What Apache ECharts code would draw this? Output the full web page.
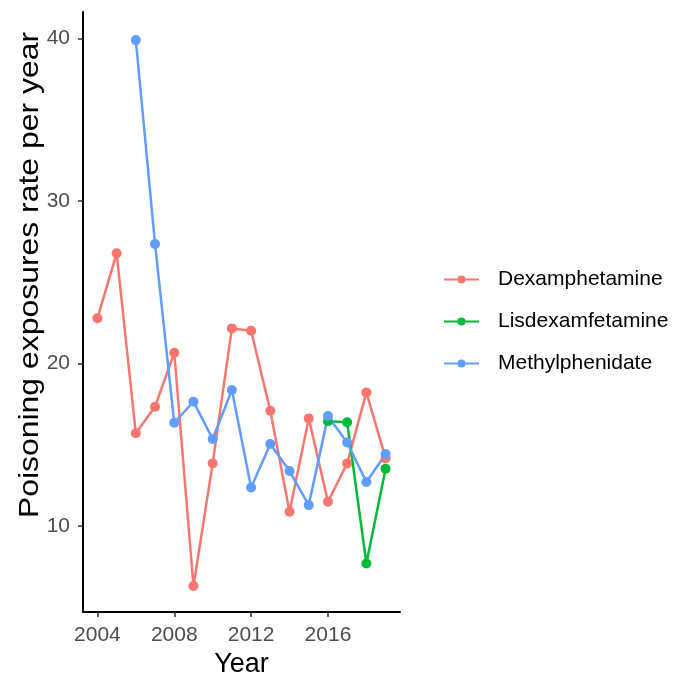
<!DOCTYPE html>
<html><head><meta charset="utf-8">
<script src="https://cdn.jsdelivr.net/npm/echarts@6/dist/echarts.min.js"></script>
<style>html,body{margin:0;padding:0;background:#fff;overflow:hidden}#c{width:684px;height:674px}</style>
</head><body><div id="c"></div>
<script>
const years = [2004,2005,2006,2007,2008,2009,2010,2011,2012,2013,2014,2015,2016,2017,2018,2019];
const dexYears = years;
const dexValues = [22.77,26.77,15.69,17.33,20.65,6.29,13.84,22.15,22.01,17.08,10.86,16.61,11.48,13.84,18.21,14.15];
const lisYears = [2016,2017,2018,2019];
const lisValues = [16.43,16.37,7.68,13.51];
const metYears = [2006,2007,2008,2009,2010,2011,2012,2013,2014,2015,2016,2017,2018,2019];
const metValues = [39.9,27.35,16.34,17.64,15.34,18.36,12.36,15.03,13.37,11.27,16.75,15.13,12.69,14.41];
const seriesNames = ['Dexamphetamine','Lisdexamfetamine','Methylphenidate'];
const xTicks = [2004,2008,2012,2016];
const yTicks = [10,20,30,40];
const xTitle = 'Year';
const yTitle = 'Poisoning exposures rate per year';

const FONT = 'Liberation Sans, Arial, sans-serif';
const colors = ['#F8766D','#00BA38','#619CFF'];
const pair = (xs, vs) => xs.map((x,i)=>[x, vs[i]]);
const mk = (name, data, color) => ({
  name, type:'line', data, color,
  symbol:'circle', symbolSize:10, showSymbol:true,
  lineStyle:{width:2.5, color}, itemStyle:{color},
  emphasis:{disabled:true}
});
const chart = echarts.init(document.getElementById('c'));
chart.setOption({
  animation:false,
  backgroundColor:'#fff',
  textStyle:{fontFamily:FONT},
  grid:{left:83, right:284, top:12, bottom:62, containLabel:false, outerBoundsMode:'none'},
  legend:{
    orient:'vertical', left:443, top:269, padding:0, itemWidth:35, itemHeight:10, itemGap:21,
    data:seriesNames,
    textStyle:{fontSize:21, color:'#000', fontFamily:FONT, padding:[0,0,0,14]}
  },
  xAxis:{
    type:'value', min:2003.25, max:2019.75, interval:1,
    axisLine:{show:true, onZero:false, lineStyle:{color:'#000', width:2}},
    axisTick:{show:true, length:5, lineStyle:{color:'#333', width:1.5}, customValues: xTicks},
    axisLabel:{fontSize:21, color:'#4D4D4D', margin:13, customValues: xTicks,
      formatter: v => String(v)},
    splitLine:{show:false},
    name:xTitle, nameLocation:'middle', nameGap:35,
    nameTextStyle:{fontSize:27, color:'#000', fontFamily:FONT}
  },
  yAxis:{
    type:'value', min:4.69, max:41.63,
    axisLine:{show:true, onZero:false, lineStyle:{color:'#000', width:2}},
    axisTick:{show:true, length:5, lineStyle:{color:'#333', width:1.5}, customValues:yTicks},
    axisLabel:{fontSize:21, color:'#4D4D4D', margin:13, customValues:yTicks},
    splitLine:{show:false}
  },
  graphic:[{
    type:'text', x:30, y:275, rotation:Math.PI/2, scaleX:1.14,
    style:{text:yTitle, fontSize:28, fill:'#000', fontFamily:FONT,
      textAlign:'center', textVerticalAlign:'middle'}
  }],
  series:[
    mk(seriesNames[0], pair(dexYears, dexValues), colors[0]),
    mk(seriesNames[1], pair(lisYears, lisValues), colors[1]),
    mk(seriesNames[2], pair(metYears, metValues), colors[2])
  ]
});
</script></body></html>
